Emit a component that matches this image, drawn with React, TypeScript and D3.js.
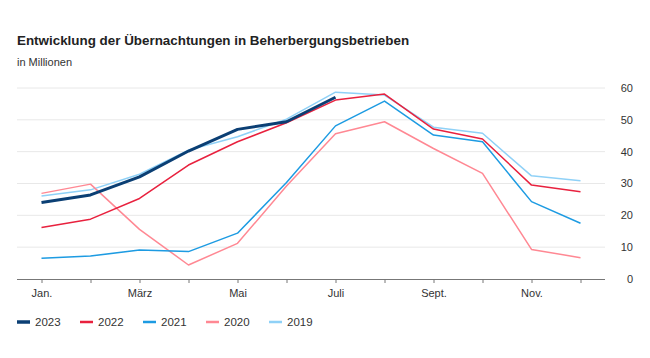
import React, { useEffect, useRef } from "react";
import { select, scalePoint, scaleLinear, line, axisBottom } from "d3";

const months = ["Jan", "Feb", "Mar", "Apr", "Mai", "Jun", "Jul", "Aug", "Sep", "Okt", "Nov", "Dez"];
const monthLabels: Record<string, string> = {
  Jan: "Jan.",
  Mar: "März",
  Mai: "Mai",
  Jul: "Juli",
  Sep: "Sept.",
  Nov: "Nov.",
};
const yTicks = [0, 10, 20, 30, 40, 50, 60];

const v2023 = [24.0, 26.4, 32.1, 40.2, 47.0, 49.4, 57.1];
const v2022 = [16.2, 18.8, 25.3, 35.8, 43.1, 49.1, 56.2, 58.1, 47.1, 44.0, 29.5, 27.4];
const v2021 = [6.5, 7.2, 9.1, 8.6, 14.4, 30.3, 48.1, 55.9, 45.2, 43.1, 24.3, 17.5];
const v2020 = [26.9, 29.8, 15.6, 4.4, 11.2, 29.2, 45.6, 49.4, 41.0, 33.2, 9.3, 6.7];
const v2019 = [26.1, 28.0, 32.9, 40.5, 44.7, 50.2, 58.7, 57.8, 47.7, 45.8, 32.4, 30.9];

const series = [
  { name: "2019", values: v2019, color: "#8fd1f7", width: 1.5 },
  { name: "2020", values: v2020, color: "#ff8893", width: 1.5 },
  { name: "2021", values: v2021, color: "#1d9be2", width: 1.5 },
  { name: "2022", values: v2022, color: "#e8213e", width: 1.5 },
  { name: "2023", values: v2023, color: "#0b3f74", width: 3 },
];
const legendOrder = ["2023", "2022", "2021", "2020", "2019"];

function App() {
  const svgRef = useRef<SVGSVGElement>(null);
  const width = 650;
  const height = 358;

  useEffect(() => {
    const svg = select(svgRef.current);
    svg.selectAll("*").remove();
    const font = "'Liberation Sans', Arial, sans-serif";

    const x = scalePoint<string>().domain(months).range([17, 605]).padding(0.5);
    const y = scaleLinear().domain([0, 60]).range([279, 88]);

    // title
    svg
      .append("text")
      .attr("x", 17)
      .attr("y", 45)
      .attr("font-family", font)
      .attr("font-size", 13.4)
      .attr("font-weight", "bold")
      .attr("fill", "#222")
      .text("Entwicklung der Übernachtungen in Beherbergungsbetrieben");
    svg
      .append("text")
      .attr("x", 17)
      .attr("y", 66)
      .attr("font-family", font)
      .attr("font-size", 11)
      .attr("fill", "#333")
      .text("in Millionen");

    // grid
    svg
      .append("g")
      .selectAll("line")
      .data(yTicks.filter((t) => t > 0))
      .join("line")
      .attr("x1", 17)
      .attr("x2", 605)
      .attr("y1", (d) => y(d))
      .attr("y2", (d) => y(d))
      .attr("stroke", "#e8e8e8")
      .attr("stroke-width", 1);

    svg
      .append("g")
      .selectAll("text")
      .data(yTicks)
      .join("text")
      .attr("x", 633)
      .attr("y", (d) => y(d))
      .attr("dy", "0.35em")
      .attr("text-anchor", "end")
      .attr("font-family", font)
      .attr("font-size", 11)
      .attr("fill", "#333")
      .text((d) => String(d));

    // x axis
    const xAxis = svg
      .append("g")
      .attr("transform", `translate(0,${y(0)})`)
      .call(
        axisBottom(x)
          .tickSize(4)
          .tickPadding(6)
          .tickFormat((d) => monthLabels[d] || "")
      );
    xAxis.select(".domain").attr("stroke", "#777").attr("d", "M17,0.5H605");
    xAxis.selectAll(".tick line").attr("stroke", "#777");
    xAxis
      .selectAll(".tick text")
      .attr("font-family", font)
      .attr("font-size", 11)
      .attr("fill", "#333");

    // lines
    const path = line<number>()
      .x((_, i) => x(months[i]) as number)
      .y((d) => y(d));

    svg
      .append("g")
      .selectAll("path")
      .data(series)
      .join("path")
      .attr("fill", "none")
      .attr("stroke", (d) => d.color)
      .attr("stroke-width", (d) => d.width)
      .attr("stroke-linejoin", "round")
      .attr("d", (d) => path(d.values));

    // legend
    const legend = svg
      .append("g")
      .selectAll("g")
      .data(legendOrder)
      .join("g")
      .attr("transform", (_, i) => `translate(${17 + i * 63},322)`);
    legend
      .append("line")
      .attr("x1", 0)
      .attr("x2", 13)
      .attr("stroke", (d) => series.find((s) => s.name === d)!.color)
      .attr("stroke-width", (d) => (d === "2023" ? 3.5 : 2.5));
    legend
      .append("text")
      .attr("x", 18)
      .attr("dy", "0.35em")
      .attr("font-family", font)
      .attr("font-size", 11.5)
      .attr("fill", "#333")
      .text((d) => d);
  }, []);

  return (
    <svg
      width={width}
      height={height}
      ref={svgRef}
      style={{ position: "absolute", left: 0, top: 0, background: "#fff" }}
    ></svg>
  );
}

export default App;
